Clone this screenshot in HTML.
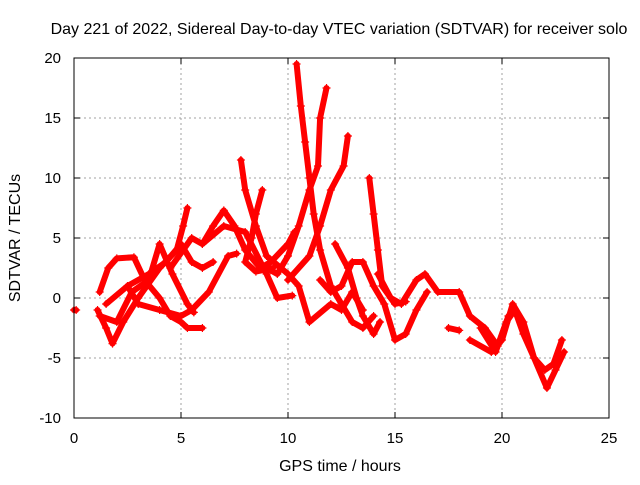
<!DOCTYPE html>
<html><head><meta charset="utf-8"><style>
body{margin:0;background:#fff;}
svg text{font-family:"Liberation Sans",sans-serif;font-size:15px;fill:#000;}
svg text.big{font-size:16px;}
</style></head><body>
<svg width="640" height="480" viewBox="0 0 640 480">
<g id="grid"></g>
<g id="series"></g>
<rect x="74" y="58" width="535" height="360" fill="none" stroke="#000" stroke-width="1"/>
<g id="ticks"></g>
<text class="big" x="339" y="34" text-anchor="middle">Day 221 of 2022, Sidereal Day-to-day VTEC variation (SDTVAR) for receiver solo</text>
<text class="big" x="340" y="471" text-anchor="middle">GPS time / hours</text>
<text class="big" transform="translate(20,238) rotate(-90)" text-anchor="middle">SDTVAR / TECUs</text>
</svg>
<script>
const xTicks=[0,5,10,15,20,25];
const yTicks=[-10,-5,0,5,10,15,20];
const trackA=[[1.1,-1],[1.5,-2.5],[1.8,-3.8],[2.3,-2],[3,0],[4,2.5],[4.8,4],[5.1,6],[5.3,7.5]];
const trackB=[[1.2,0.5],[1.6,2.5],[2,3.3],[2.8,3.4],[3.3,1.5],[4,0],[4.5,-1.5],[5,-2],[5.3,-2.5],[6,-2.5]];
const trackC=[[1.2,-1.5],[2,-2],[2.7,0.5],[3.5,1.5],[4,4.5],[4.6,2],[5.3,-0.5],[5.6,-1.2]];
const trackD=[[2.5,1],[3,-0.5],[4,-1],[5,-1.5],[5.5,-1],[6.3,0.5],[7.2,3.5],[7.6,3.7]];
const trackE=[[4.5,2.5],[5.5,5],[6,4.5],[6.5,6],[7,7.3],[7.5,6],[8,4],[8.7,2.5],[9.2,3],[10,4.5],[10.3,5.5]];
const trackF=[[1.5,-0.5],[2.5,1],[3.5,2],[4.3,3],[5,4.5],[5.5,3],[6,2.5],[6.5,3]];
const trackG=[[7.8,11.5],[8,9],[8.5,6],[9,3.5],[10,2],[10.5,1],[11,-2],[12,-0.5],[12.5,-1],[13,0.5],[13.5,-1]];
const trackH=[[6,4.5],[7,6],[8,5.5],[9,2],[9.5,0],[10.2,0.2]];
const trackI=[[8.8,9],[8.5,7],[8.3,5],[8,3],[8.5,2.2],[9.3,2.5]];
const trackJ=[[10.4,19.5],[10.6,16],[10.8,13],[11,10],[11.2,7],[11.5,4],[12,1],[12.5,-0.5],[13,-2],[13.5,-2.5],[14,-1.5]];
const trackK=[[8.5,3],[9.5,2],[10,3.5],[10.5,6],[11,9],[11.4,11],[11.5,15],[11.8,17.5]];
const trackL=[[10,1.5],[11,3.5],[11.5,6],[12,9],[12.6,11],[12.8,13.5]];
const trackM=[[13.8,10],[14,7],[14.2,4],[14.4,1],[15,-0.5],[15.5,-0.3]];
const trackN=[[12.2,4.5],[12.8,2.5],[13.2,0],[13.5,-1.5],[14,-3],[14.3,-2]];
const trackO=[[11.5,1.5],[12,0.5],[12.5,1],[13,3],[13.5,3],[14,1],[14.5,-0.5],[15,-3.5],[15.5,-3],[16,-1],[16.5,0.5]];
const trackP=[[14.2,2],[14.8,0],[15.3,-0.5],[16,1.5],[16.4,2],[17,0.5],[18,0.5],[18.5,-1.5],[19.2,-2.5],[19.8,-4],[20.3,-1.5]];
const trackQ=[[17.5,-2.5],[18,-2.7]];
const trackR=[[18.5,-3.5],[19.5,-4.5],[20,-3.5],[20.5,-0.5],[21,-2],[21.5,-5],[22,-6],[22.4,-5.5],[22.8,-3.5]];
const trackS=[[19,-2.5],[19.7,-4.5],[20.2,-2],[20.6,-1],[21,-3],[21.5,-5],[22.1,-7.5],[22.5,-6],[22.9,-4.5]];
const trackT=[[0,-1],[0.1,-1]];
const tracks=[trackA,trackB,trackC,trackD,trackE,trackF,trackG,trackH,trackI,trackJ,trackK,trackL,trackM,trackN,trackO,trackP,trackQ,trackR,trackS,trackT];
const NS='http://www.w3.org/2000/svg';
const X0=74,X1=609,Y0=418,Y1=58;
function xs(h){return X0+(h-0)/25*(X1-X0);}
function ys(v){return Y0-(v+10)/30*(Y0-Y1);}
const grid=document.getElementById('grid'),ticks=document.getElementById('ticks'),ser=document.getElementById('series');
function mk(tag,attrs,parent){const e=document.createElementNS(NS,tag);for(const k in attrs)e.setAttribute(k,attrs[k]);parent.appendChild(e);return e;}
xTicks.forEach(t=>{const x=xs(t);
 if(t>0&&t<25){const g=mk('line',{x1:x,x2:x,y1:Y1,y2:Y0,stroke:'#a0a0a0','stroke-dasharray':'2,3'},grid);
 
 }
 const tk=mk('line',{x1:x,x2:x,y1:Y0,y2:Y0-6,stroke:'#000'},ticks);
 
 
 const tk2=mk('line',{x1:x,x2:x,y1:Y1,y2:Y1+6,stroke:'#000'},ticks);
 
 
 const tx=mk('text',{x:x,y:443,'text-anchor':'middle'},ticks);tx.textContent=t;
 
 });
yTicks.forEach(t=>{const y=ys(t);
 if(t>-10&&t<20){const g=mk('line',{x1:X0,x2:X1,y1:y,y2:y,stroke:'#a0a0a0','stroke-dasharray':'2,3'},grid);
 
 }
 const tk=mk('line',{x1:X0,x2:X0+6,y1:y,y2:y,stroke:'#000'},ticks);
 
 
 const tk2=mk('line',{x1:X1,x2:X1-6,y1:y,y2:y,stroke:'#000'},ticks);
 
 
 const tx=mk('text',{x:61,y:y+5,'text-anchor':'end'},ticks);tx.textContent=t;
 
 });
tracks.forEach(tr=>{
 const pts=tr.map(p=>xs(p[0]).toFixed(1)+','+ys(p[1]).toFixed(1)).join(' ');
 const pl=mk('polyline',{points:pts,fill:'none',stroke:'#ff0000','stroke-width':6,'stroke-linejoin':'round','stroke-linecap':'round'},ser);
 
 
 tr.forEach(p=>{const x=xs(p[0]),y=ys(p[1]);
  const m=mk('path',{d:`M${x-4},${y}H${x+4}M${x},${y-4}V${y+4}`,stroke:'#ff0000','stroke-width':1.2},ser);
  
  });
});
</script>
</body></html>
